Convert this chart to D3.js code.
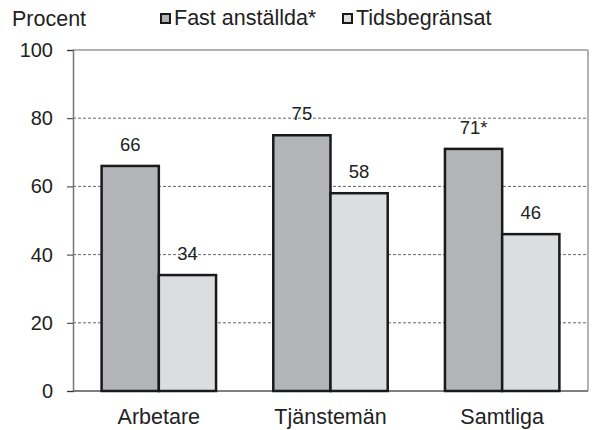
<!DOCTYPE html>
<html>
<head>
<meta charset="utf-8">
<script src="https://cdn.jsdelivr.net/npm/d3@7"></script>
<style>
  body { margin: 0; background: #fff; }
  text { font-family: "Liberation Sans", Arial, sans-serif; fill: #222; }
</style>
</head>
<body>
<script>
// data
var categories = ["Arbetare", "Tjänstemän", "Samtliga"];
var seriesNames = ["Fast anställda*", "Tidsbegränsat"];
var fastValues = [66, 75, 71];
var tidsValues = [34, 58, 46];
var fastLabels = ["66", "75", "71*"];
var tidsLabels = ["34", "58", "46"];
var yTicks = [0, 20, 40, 60, 80, 100];

var colors = ["#b3b4b7", "#dcdddf"];

var W = 593, H = 430,
    margin = {top: 50, right: 5, bottom: 39, left: 73},
    w = W - margin.left - margin.right,
    h = H - margin.top - margin.bottom;

var svg = d3.select("body").append("svg").attr("width", W).attr("height", H),
    g = svg.append("g").attr("transform", "translate(" + margin.left + "," + margin.top + ")");

var x0 = d3.scaleBand().domain(categories).range([0, w]).paddingInner(1/3).paddingOuter(1/6),
    x1 = d3.scaleBand().domain(seriesNames).range([0, x0.bandwidth()]),
    y = d3.scaleLinear().domain([0, 100]).range([h, 0]);

// grid
g.selectAll("line.grid").data(yTicks.filter(function(d) { return d > 0 && d < 100; })).enter()
    .append("line").attr("class", "grid")
    .attr("x1", 0).attr("x2", w)
    .attr("y1", function(d) { return y(d); }).attr("y2", function(d) { return y(d); })
    .attr("stroke", "#666").attr("stroke-width", 1).attr("stroke-dasharray", "3,2");

// frame top and right
g.append("line").attr("x1", 0).attr("x2", w).attr("y1", y(100)).attr("y2", y(100))
    .attr("stroke", "#999").attr("stroke-width", 1.5);
g.append("line").attr("x1", w).attr("x2", w).attr("y1", y(100)).attr("y2", y(0))
    .attr("stroke", "#999").attr("stroke-width", 1.5);

// y axis
var yAxis = g.append("g").call(d3.axisLeft(y).tickValues(yTicks).tickSize(6).tickPadding(14));
yAxis.select(".domain").attr("stroke", "#777").attr("stroke-width", 1.5);
yAxis.selectAll(".tick line").attr("stroke", "#333");
yAxis.selectAll("text").attr("font-size", 20).attr("font-family", "Liberation Sans, Arial, sans-serif").attr("fill", "#222");

// x axis line
g.append("line").attr("x1", 0).attr("x2", w).attr("y1", y(0)).attr("y2", y(0))
    .attr("stroke", "#555").attr("stroke-width", 1.5);

// bars
var rows = categories.map(function(c, i) {
    return [
        {cat: c, s: seriesNames[0], v: fastValues[i], label: fastLabels[i], color: colors[0]},
        {cat: c, s: seriesNames[1], v: tidsValues[i], label: tidsLabels[i], color: colors[1]}
    ];
});

var groups = g.selectAll("g.grp").data(rows).enter().append("g")
    .attr("transform", function(d) { return "translate(" + x0(d[0].cat) + ",0)"; });

groups.selectAll("rect").data(function(d) { return d; }).enter().append("rect")
    .attr("x", function(d) { return x1(d.s); })
    .attr("y", function(d) { return y(d.v); })
    .attr("width", x1.bandwidth())
    .attr("height", function(d) { return y(0) - y(d.v); })
    .attr("fill", function(d) { return d.color; })
    .attr("stroke", "#1a1a1a").attr("stroke-width", 2.5);

groups.selectAll("text").data(function(d) { return d; }).enter().append("text")
    .attr("x", function(d) { return x1(d.s) + x1.bandwidth() / 2; })
    .attr("y", function(d) { return y(d.v) - 15; })
    .attr("text-anchor", "middle").attr("font-size", 18.5)
    .text(function(d) { return d.label; });

// category labels
g.selectAll("text.cat").data(categories).enter().append("text").attr("class", "cat")
    .attr("x", function(d) { return x0(d) + x0.bandwidth() / 2; })
    .attr("y", h + 33)
    .attr("text-anchor", "middle").attr("font-size", 21.5)
    .text(function(d) { return d; });

// title + legend
svg.append("text").attr("x", 12).attr("y", 26).attr("font-size", 21.5).text("Procent");

var legX = [160, 342];
var leg = svg.selectAll("g.leg").data(seriesNames).enter().append("g")
    .attr("transform", function(d, i) { return "translate(" + legX[i] + ",0)"; });
leg.append("rect").attr("x", 1).attr("y", 14).attr("width", 9).attr("height", 9)
    .attr("fill", function(d, i) { return colors[i]; })
    .attr("stroke", "#1a1a1a").attr("stroke-width", 2);
leg.append("text").attr("x", 14).attr("y", 25).attr("font-size", 21.5).text(function(d) { return d; });
</script>
</body>
</html>
